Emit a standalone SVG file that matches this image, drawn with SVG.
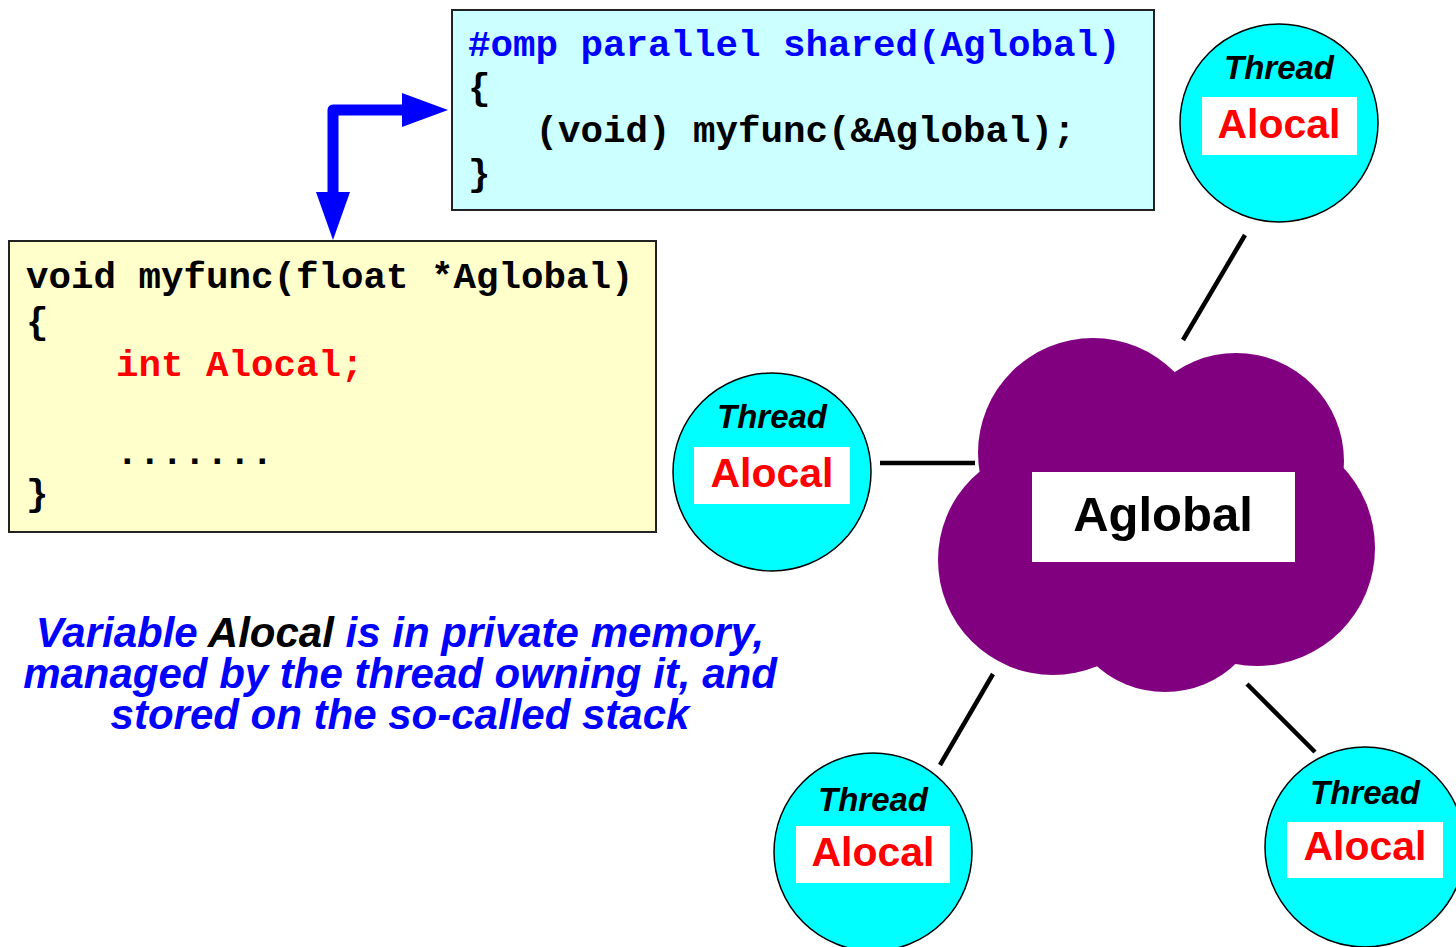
<svg xmlns="http://www.w3.org/2000/svg" width="1456" height="947" viewBox="0 0 1456 947">
<defs>
<style>
.code{font-family:"Liberation Mono","Courier New",monospace;font-weight:bold;font-size:37.5px;white-space:pre;fill:#000}
.box{stroke:#222;stroke-width:2}
.thr{fill:#00ffff;stroke:#000;stroke-width:1.5}
.tt{font-family:"Liberation Sans",Arial,sans-serif;font-weight:bold;font-style:italic;font-size:33px;fill:#000;text-anchor:middle}
.al{font-family:"Liberation Sans",Arial,sans-serif;font-weight:bold;font-size:41px;fill:#ff0000;text-anchor:middle}
.lbl{fill:#fff}
.conn{stroke:#000;stroke-width:4.5;fill:none}
.cap{font-family:"Liberation Sans",Arial,sans-serif;font-weight:bold;font-style:italic;font-size:42px;fill:#0000ff;text-anchor:middle}
</style>
</defs>
<rect width="1456" height="947" fill="#fff"/>

<g id="omp-box">
<rect class="box" x="452" y="10" width="702" height="200" fill="#ccffff"/>
<text class="code" x="468" y="56" style="fill:#0000ff">#omp parallel shared(Aglobal)</text>
<text class="code" x="468" y="99">{</text>
<text class="code" x="468" y="142">   (void) myfunc(&amp;Aglobal);</text>
<text class="code" x="468" y="185">}</text>
</g>

<g id="myfunc-box">
<rect class="box" x="9" y="241" width="647" height="291" fill="#ffffcc"/>
<text class="code" x="26" y="288">void myfunc(float *Aglobal)</text>
<text class="code" x="26" y="333">{</text>
<text class="code" x="26" y="376" style="fill:#ff0000">    int Alocal;</text>
<text class="code" x="26" y="464">    .......</text>
<text class="code" x="26" y="505">}</text>
</g>

<g id="connectors">
<path d="M333,194 V110 H404" stroke="#0000ff" stroke-width="11" fill="none" stroke-linejoin="round"/>
<polygon points="402,93 448,110 402,127" fill="#0000ff"/>
<polygon points="316,192 350,192 333,240" fill="#0000ff"/>
<line class="conn" x1="1245" y1="235" x2="1183" y2="340"/>
<line class="conn" x1="880" y1="463" x2="975" y2="463"/>
<line class="conn" x1="993" y1="674" x2="940" y2="765"/>
<line class="conn" x1="1247" y1="684" x2="1315" y2="752"/>
</g>

<g id="aglobal-cloud" fill="#800080">
<circle cx="1093" cy="453" r="115"/>
<circle cx="1236" cy="461" r="108"/>
<circle cx="1257" cy="548" r="118"/>
<circle cx="1165" cy="589" r="103"/>
<circle cx="1053" cy="560" r="115"/>
<ellipse cx="1160" cy="520" rx="140" ry="110"/>
<rect class="lbl" x="1032" y="472" width="263" height="90"/>
<text x="1163" y="531" font-family="'Liberation Sans',Arial,sans-serif" font-weight="bold" font-size="49" fill="#000" text-anchor="middle">Aglobal</text>
</g>

<g id="thread-top">
<circle class="thr" cx="1279" cy="123" r="99"/>
<text class="tt" x="1279" y="79">Thread</text>
<rect class="lbl" x="1202" y="97" width="155" height="58"/>
<text class="al" x="1279" y="138">Alocal</text>
</g>

<g id="thread-left">
<circle class="thr" cx="772" cy="472" r="99"/>
<text class="tt" x="772" y="428">Thread</text>
<rect class="lbl" x="694" y="447" width="156" height="57"/>
<text class="al" x="772" y="487">Alocal</text>
</g>

<g id="thread-bottom">
<circle class="thr" cx="873" cy="852" r="99"/>
<text class="tt" x="873" y="811">Thread</text>
<rect class="lbl" x="796" y="826" width="154" height="57"/>
<text class="al" x="873" y="866">Alocal</text>
</g>

<g id="thread-bottom-right">
<circle class="thr" cx="1365" cy="847" r="100"/>
<text class="tt" x="1365" y="804">Thread</text>
<rect class="lbl" x="1287" y="822" width="156" height="56"/>
<text class="al" x="1365" y="860">Alocal</text>
</g>

<g id="caption">
<text class="cap" x="400" y="647">Variable <tspan fill="#000">Alocal</tspan> is in private memory,</text>
<text class="cap" x="400" y="688">managed by the thread owning it, and</text>
<text class="cap" x="400" y="729">stored on the so-called stack</text>
</g>
</svg>
